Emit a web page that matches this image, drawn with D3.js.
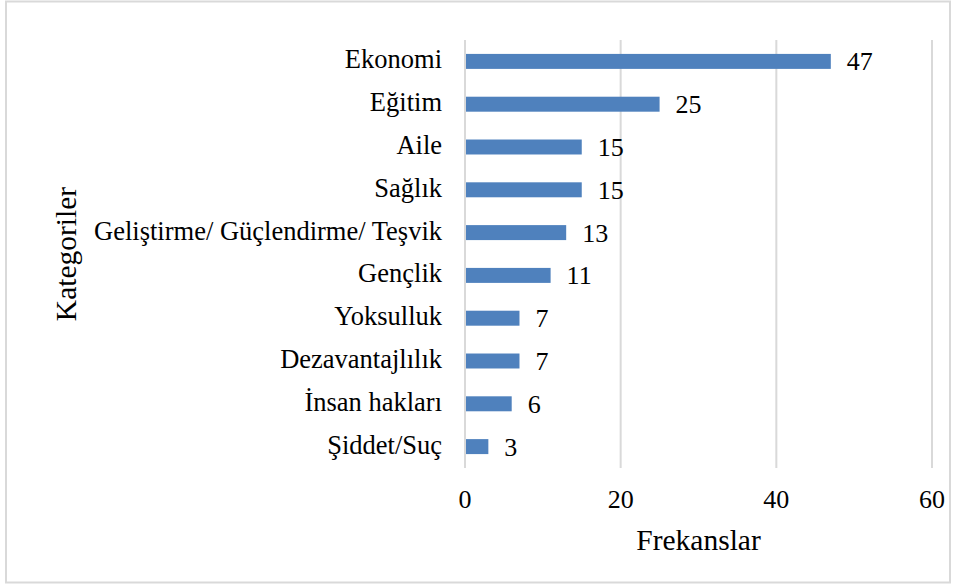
<!DOCTYPE html>
<html>
<head>
<meta charset="utf-8">
<script src="https://d3js.org/d3.v7.min.js"></script>
<style>
body { margin: 0; background: #fff; }
text { font-family: "Liberation Serif", "DejaVu Serif", serif; }
</style>
</head>
<body>
<div id="chart"></div>
<script>
var categories = ["Ekonomi", "Eğitim", "Aile", "Sağlık", "Geliştirme/ Güçlendirme/ Teşvik",
  "Gençlik", "Yoksulluk", "Dezavantajlılık", "İnsan hakları", "Şiddet/Suç"];
var values = [47, 25, 15, 15, 13, 11, 7, 7, 6, 3];
var xTicks = [0, 20, 40, 60];

var width = 953, height = 585;
var plot = { left: 465, right: 932, top: 40, bottom: 468 };
var serif = "'Liberation Serif', 'Times New Roman', serif";

var svg = d3.select("#chart").append("svg")
  .attr("width", width).attr("height", height)
  .attr("font-family", serif);

// outer frame
svg.append("rect")
  .attr("x", 6).attr("y", 1.5).attr("width", 944).attr("height", 581)
  .attr("fill", "#fff").attr("stroke", "#d9d9d9").attr("stroke-width", 2);

var xScale = d3.scaleLinear().domain([0, 60]).range([plot.left, plot.right]);
var yScale = d3.scaleBand().domain(categories).range([plot.top, plot.bottom]).paddingInner(0.65).paddingOuter(0.325);

// vertical gridlines
svg.selectAll("line.grid").data(xTicks).enter().append("line")
  .attr("class", "grid")
  .attr("x1", xScale).attr("x2", xScale)
  .attr("y1", plot.top).attr("y2", plot.bottom)
  .attr("stroke", "#d9d9d9").attr("stroke-width", 2);

// bars
svg.selectAll("rect.bar").data(values).enter().append("rect")
  .attr("class", "bar")
  .attr("x", xScale(0) + 1)
  .attr("y", function (d, i) { return yScale(categories[i]); })
  .attr("width", function (d) { return xScale(d) - xScale(0) - 1; })
  .attr("height", yScale.bandwidth())
  .attr("fill", "#4f81bd");

// value labels
svg.selectAll("text.val").data(values).enter().append("text")
  .attr("x", function (d) { return xScale(d) + 16; })
  .attr("y", function (d, i) { return yScale(categories[i]) + yScale.bandwidth() / 2 + 9; })
  .attr("font-family", serif)
  .attr("font-size", 26).attr("fill", "#000")
  .text(function (d) { return d; });

// category labels
svg.selectAll("text.cat").data(categories).enter().append("text")
  .attr("x", plot.left - 23)
  .attr("y", function (d) { return yScale(d) + yScale.bandwidth() / 2 + 7; })
  .attr("text-anchor", "end")
  .attr("font-family", serif)
  .attr("font-size", 26.5).attr("fill", "#000")
  .text(function (d) { return d; });

// x tick labels
svg.selectAll("text.tick").data(xTicks).enter().append("text")
  .attr("x", xScale).attr("y", 508)
  .attr("text-anchor", "middle")
  .attr("font-family", serif)
  .attr("font-size", 26).attr("fill", "#000")
  .text(function (d) { return d; });

// axis titles
svg.append("text")
  .attr("x", (plot.left + plot.right) / 2).attr("y", 550)
  .attr("text-anchor", "middle").attr("font-size", 29.5).attr("fill", "#000")
  .attr("font-family", serif)
  .text("Frekanslar");

svg.append("text")
  .attr("transform", "translate(76," + (plot.top + plot.bottom) / 2 + ") rotate(-90)")
  .attr("text-anchor", "middle").attr("font-size", 29.5).attr("fill", "#000")
  .attr("font-family", serif)
  .text("Kategoriler");
</script>
</body>
</html>
